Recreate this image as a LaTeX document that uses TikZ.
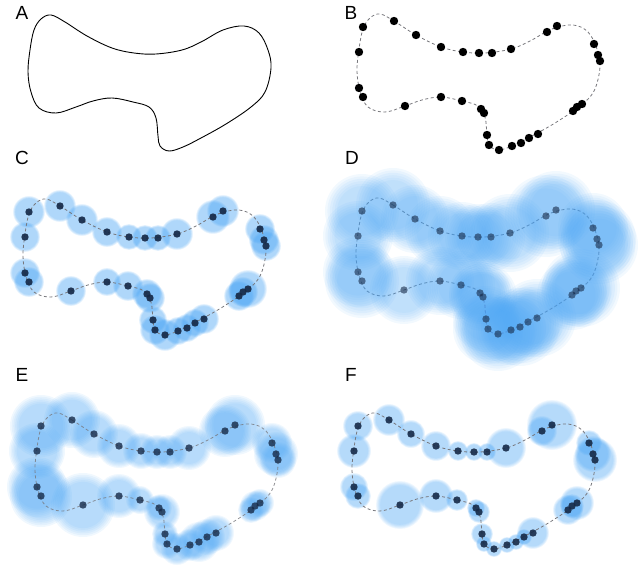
\documentclass[tikz,border=0pt]{standalone}
\usepackage{fontspec}
\setmainfont{Liberation Sans}
\begin{document}
\begin{tikzpicture}[x=1pt,y=-1pt]
\definecolor{blobcol}{RGB}{77,166,244}
\definecolor{dotcol}{RGB}{22,42,72}
\definecolor{dashcol}{RGB}{120,120,125}
\tikzset{
  outline/.style={draw=black, line width=0.9pt},
  dashcurve/.style={draw=dashcol, line width=0.8pt, dash pattern=on 3pt off 2.5pt},
  panellabel/.style={font=\fontsize{19}{22}\selectfont, inner sep=0pt},
  blackdot/.style={fill=black},
  navydot/.style={fill=dotcol},
}
\useasboundingbox (0,0) rectangle (640,567);
\newcommand\closedcurve[1]{\draw[#1] plot[smooth cycle, tension=0.6] coordinates {
 (50,15) (64,22) (86,36) (111,48) (133,53) (155,54) (181,50) (200,42) (222,30) (243,26)
 (258,33) (267,50) (270,68) (264,92) (250,107) (225,124) (200,138) (182,147) (168,151)
 (159,146) (157,136) (155,118) (148,107) (132,102) (111,98) (92,101) (75,107) (55,113)
 (38,108) (30,92) (27,72) (29,50) (33,30) (40,19)};}
% x/y/rC/rD/rE/rF
\def\dotlist{33/28/16/37/31/15, 64/22/16/37/28/16, 86/36/16/34/24/14, 111/48/15/35/22/15,
 133/53/13/34/18/10, 149/54/13/33/17/9, 162/54/13/34/17/9, 181/50/16/39/22/20,
 217/33/17/41/26/15, 227/27/16/39/30/25, 264/45/15/35/20/13, 268/56/15/39/22/18,
 270/62/15/39/18/22, 252/105/19/39/14/17, 247/108/15/35/15/12, 243/112/15/35/13/15,
 208/135/15/39/18/16, 199/139/14/35/18/8, 191/144/14/39/20/8, 182/147/14/35/16/8,
 169/151/16/37/16/8, 159/146/15/35/15/8, 157/136/14/33/13/11, 154/114/15/34/18/11,
 151/110/15/31/13/9, 132/102/15/34/14/11, 111/98/14/34/22/17, 75/107/15/34/32/24,
 33/98/15/37/31/13, 29/89/15/35/30/14, 29/53/15/35/28/17}
% x, y, r, per-layer opacity, edge step
\newcommand\fuzzblob[5]{%
  \foreach \k in {0,1,2,3,4,5}{\fill[blobcol, fill opacity=#4] (#1,#2) circle[radius={(1-\k*#5)*#3}];}}
% panel A
\node[panellabel] (labA) at (22,13) {A};
\begin{scope}[shift={(1,0)}]
  \closedcurve{outline}
\end{scope}
% panel B
\node[panellabel] (labB) at (351,13) {B};
\begin{scope}[shift={(330,-1)}]
  \closedcurve{dashcurve}
  \foreach \x/\y/\rc/\rd/\re/\rf in \dotlist {\fill[blackdot] (\x,\y) circle[radius=4.2];}
\end{scope}
% panel C
\node[panellabel] (labC) at (22,158) {C};
\begin{scope}[shift={(-4,184)}]
  \foreach \x/\y/\rc/\rd/\re/\rf in \dotlist {\fuzzblob{\x}{\y}{\rc}{0.095}{0.03}}
  \closedcurve{dashcurve}
  \foreach \x/\y/\rc/\rd/\re/\rf in \dotlist {\fill[navydot, fill opacity=0.92] (\x,\y) circle[radius=3.7];}
\end{scope}
% panel D
\node[panellabel] (labD) at (352,158) {D};
\begin{scope}[shift={(329,183)}]
  \closedcurve{dashcurve}
  \foreach \x/\y/\rc/\rd/\re/\rf in \dotlist {\fuzzblob{\x}{\y}{\rd}{0.072}{0.065}}
  \foreach \x/\y/\rc/\rd/\re/\rf in \dotlist {\fill[navydot, fill opacity=0.6] (\x,\y) circle[radius=3.7];}
\end{scope}
% panel E
\node[panellabel] (labE) at (22,375) {E};
\begin{scope}[shift={(8,398)}]
  \foreach \x/\y/\rc/\rd/\re/\rf in \dotlist {\fuzzblob{\x}{\y}{\re}{0.082}{0.055}}
  \closedcurve{dashcurve, draw opacity=0.8}
  \foreach \x/\y/\rc/\rd/\re/\rf in \dotlist {\fill[navydot, fill opacity=0.8] (\x,\y) circle[radius=3.7];}
\end{scope}
% panel F
\node[panellabel] (labF) at (351,375) {F};
\begin{scope}[shift={(325,398)}]
  \foreach \x/\y/\rc/\rd/\re/\rf in \dotlist {\fuzzblob{\x}{\y}{\rf}{0.087}{0.035}}
  \closedcurve{dashcurve}
  \foreach \x/\y/\rc/\rd/\re/\rf in \dotlist {\fill[navydot, fill opacity=0.9] (\x,\y) circle[radius=3.7];}
\end{scope}
\end{tikzpicture}
\end{document}
